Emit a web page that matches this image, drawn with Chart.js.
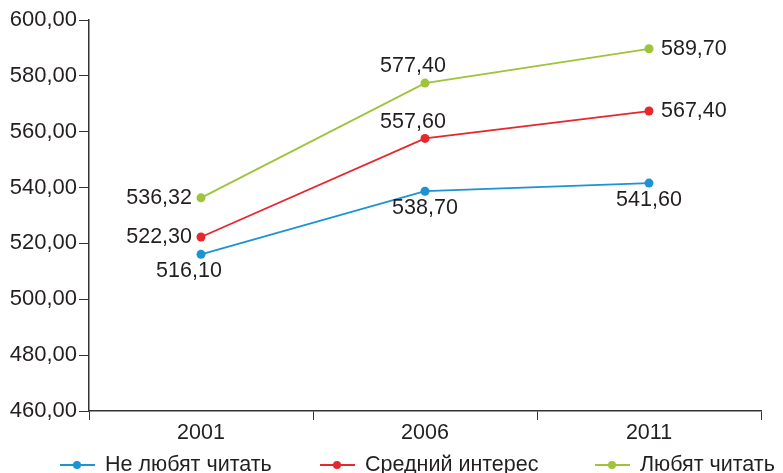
<!DOCTYPE html>
<html>
<head>
<meta charset="utf-8">
<script src="https://cdn.jsdelivr.net/npm/chart.js@4"></script>
<style>
  html, body { margin: 0; padding: 0; background: #fff; overflow: hidden; }
  #wrap { width: 783px; height: 482px; position: relative; }
</style>
</head>
<body>
<div id="wrap"><canvas id="readingChart"></canvas></div>
<script>
// Data
const years = ['2001', '2006', '2011'];
const seriesNames = ['Не любят читать', 'Средний интерес', 'Любят читать'];
const dislikeReading = [516.10, 538.70, 541.60];
const middleInterest = [522.30, 557.60, 567.40];
const likeReading = [536.32, 577.40, 589.70];
const yTicks = [460, 480, 500, 520, 540, 560, 580, 600];

const colors = ['#1b93d4', '#e8262d', '#9dc43a'];
const textColor = '#231f20';
const fontFamily = "'Liberation Sans', Arial, sans-serif";

// where each value label sits relative to its point: [dataset][index]
const labelPlacement = [
    ['below', 'below', 'below'],
    ['left', 'above', 'right'],
    ['left', 'above', 'right']
];

function fmt(v) {
    return v.toFixed(2).replace('.', ',');
}

const valueLabels = {
    id: 'valueLabels',
    afterDatasetsDraw(chart) {
        const ctx = chart.ctx;
        ctx.save();
        ctx.font = '21.5px ' + fontFamily;
        ctx.fillStyle = textColor;
        chart.data.datasets.forEach((ds, i) => {
            const meta = chart.getDatasetMeta(i);
            meta.data.forEach((pt, j) => {
                const pos = labelPlacement[i][j];
                const txt = fmt(ds.data[j]);
                if (pos === 'left') {
                    ctx.textAlign = 'right';
                    ctx.textBaseline = 'middle';
                    ctx.fillText(txt, pt.x - 9, pt.y);
                } else if (pos === 'right') {
                    ctx.textAlign = 'left';
                    ctx.textBaseline = 'middle';
                    ctx.fillText(txt, pt.x + 12, pt.y);
                } else if (pos === 'above') {
                    ctx.textAlign = 'center';
                    ctx.textBaseline = 'bottom';
                    ctx.fillText(txt, pt.x - 12, pt.y - 6);
                } else {
                    ctx.textAlign = 'center';
                    ctx.textBaseline = 'top';
                    ctx.fillText(txt, pt.x + (j === 0 ? -12 : 0), pt.y + 6);
                }
            });
        });
        ctx.restore();
    }
};

// legend with a line-and-dot marker, drawn under the x axis
const lineLegend = {
    id: 'lineLegend',
    afterDraw(chart) {
        const ctx = chart.ctx;
        const startX = [60, 320, 595];
        const y = 465;
        ctx.save();
        ctx.font = '21.5px ' + fontFamily;
        ctx.textBaseline = 'middle';
        ctx.textAlign = 'left';
        chart.data.datasets.forEach((ds, i) => {
            const x = startX[i];
            ctx.strokeStyle = ds.borderColor;
            ctx.lineWidth = 2;
            ctx.beginPath();
            ctx.moveTo(x, y);
            ctx.lineTo(x + 35, y);
            ctx.stroke();
            ctx.fillStyle = ds.borderColor;
            ctx.beginPath();
            ctx.arc(x + 17, y, 4, 0, Math.PI * 2);
            ctx.fill();
            ctx.fillStyle = textColor;
            ctx.fillText(ds.label, x + 45, y);
        });
        ctx.restore();
    }
};

const values = [dislikeReading, middleInterest, likeReading];

new Chart(document.getElementById('readingChart'), {
    type: 'line',
    data: {
        labels: years,
        datasets: values.map((v, i) => ({
            label: seriesNames[i],
            data: v,
            borderColor: colors[i],
            backgroundColor: colors[i],
            pointBackgroundColor: colors[i],
            pointBorderWidth: 0,
            pointRadius: 4.5,
            borderWidth: 1.8,
            tension: 0
        }))
    },
    options: {
        responsive: true,
        maintainAspectRatio: false,
        animation: false,
        layout: { padding: { top: 20, right: 22, left: 0, bottom: 0 } },
        plugins: {
            legend: { display: false },
            tooltip: { enabled: false }
        },
        scales: {
            x: {
                offset: true,
                grid: {
                    offset: true,
                    drawOnChartArea: false,
                    drawTicks: true,
                    tickLength: 9,
                    color: '#333'
                },
                border: { color: '#333', width: 1.5 },
                ticks: {
                    color: textColor,
                    font: { size: 21.5, family: fontFamily },
                    padding: 0
                },
                afterFit(scale) { scale.height = 71; }
            },
            y: {
                min: 460,
                max: 600,
                afterBuildTicks(scale) {
                    scale.ticks = yTicks.map(v => ({ value: v }));
                },
                grid: {
                    drawOnChartArea: false,
                    drawTicks: true,
                    tickLength: 10,
                    color: '#333'
                },
                border: { color: '#333', width: 1.5 },
                ticks: {
                    color: textColor,
                    font: { size: 22, family: fontFamily },
                    padding: 2,
                    callback: v => fmt(v)
                },
                afterFit(scale) { scale.width = 89; }
            }
        }
    },
    plugins: [valueLabels, lineLegend]
});
</script>
</body>
</html>
